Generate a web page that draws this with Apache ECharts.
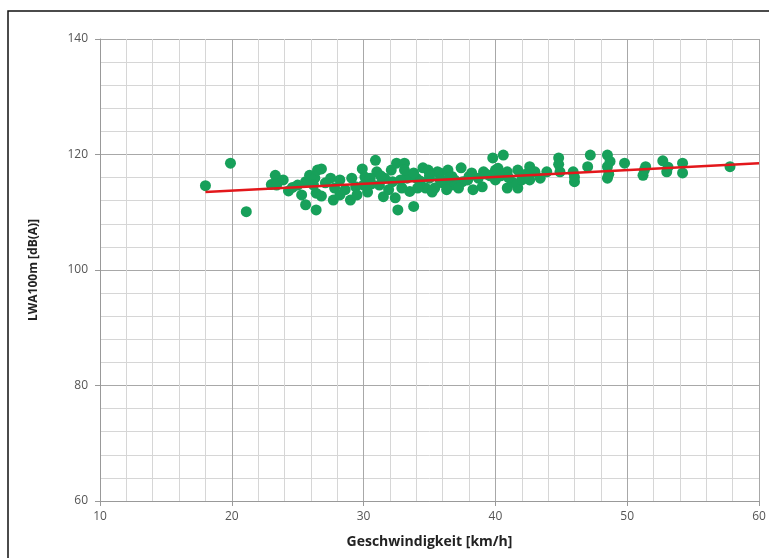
<!DOCTYPE html>
<html>
<head>
<meta charset="utf-8">
<script src="https://cdn.jsdelivr.net/npm/echarts@6/dist/echarts.min.js"></script>
<style>html,body{margin:0;padding:0;background:#fff;}#c{width:769px;height:558px;}</style>
</head>
<body>
<div id="c"></div>
<script>
const speed = [18.0,19.9,21.1,23.3,23.0,23.4,24.3,24.6,25.3,25.6,25.6,25.9,26.3,26.4,26.4,26.5,26.8,26.2,27.5,27.8,28.2,29.0,29.1,29.9,30.0,30.3,30.9,31.0,31.2,31.5,32.1,32.2,32.5,32.6,33.1,33.3,33.5,33.8,34.0,34.5,34.7,35.0,35.4,35.6,35.8,36.0,36.7,36.7,37.4,37.5,38.2,38.3,39.0,39.1,39.8,40.0,40.0,40.6,40.9,40.9,41.7,41.7,42.0,42.6,42.6,43.9,44.8,44.9,45.9,46.0,47.0,47.2,48.5,48.5,48.7,48.5,49.8,51.4,51.2,52.7,53.0,54.2,54.2,57.8,
  26.8,27.7,28.6,29.4,30.1,30.5,31.6,31.9,32.8,32.9,34.3,34.9,35.8,36.4,36.9,37.2,37.9,38.7,39.6,40.4,41.3,42.3,43.0,43.4,23.9,25.0,27.1,28.2,29.5,30.6,32.4,33.1,34.1,35.2,36.3,
  44.8,46.0,48.6,51.3,53.1,31.3,33.8,35.0,36.5,38.0,39.3,40.2,41.0];
const level = [114.6,118.5,110.1,116.4,114.8,114.7,113.7,114.3,113.0,111.3,115.3,116.4,115.9,113.3,110.4,117.3,117.5,114.7,115.9,114.2,115.6,112.1,115.9,117.5,114.7,113.5,119.0,117.0,114.7,112.7,117.3,115.3,118.5,110.4,118.5,115.9,113.6,111.0,115.9,117.7,114.2,115.9,114.2,117.0,116.8,115.1,116.2,114.7,117.7,115.3,116.8,113.9,114.4,117.0,119.4,117.3,115.6,119.9,117.0,114.2,117.3,114.2,115.6,117.9,115.6,117.0,119.4,117.0,117.0,115.3,117.9,119.9,119.9,117.9,118.8,115.9,118.5,117.9,116.4,118.9,117.0,118.5,116.8,117.9,
  112.8,112.1,113.9,114.4,116.1,115.9,115.9,113.9,115.6,114.2,115.4,117.3,115.6,117.3,115.6,114.2,115.6,115.9,116.3,116.3,115.2,116.6,117.0,115.9,115.6,114.7,115.1,113.0,113.0,114.9,112.5,117.3,114.2,113.5,113.9,
  118.3,116.1,116.6,117.3,117.8,116.3,116.8,116.4,116.0,116.2,116.6,117.6,116.0];
const trendX = [18, 60];
const trendY = [113.5, 118.5];

const scatterData = speed.map((s, i) => [s, level[i]]);
const trendData = trendX.map((s, i) => [s, trendY[i]]);

const chart = echarts.init(document.getElementById('c'), null, {renderer: 'canvas'});
const font = 'Open Sans, Liberation Sans, sans-serif';
chart.setOption({
  animation: false,
  backgroundColor: '#fff',
  graphic: [{
    type: 'rect', silent: true, z: 100,
    shape: {x: 8, y: 11, width: 780, height: 580},
    style: {fill: 'none', stroke: '#111', lineWidth: 1.5}
  }],
  grid: {left: 100, top: 39, right: 10, bottom: 57},
  xAxis: {
    type: 'value', min: 10, max: 60, interval: 10,
    name: 'Geschwindigkeit [km/h]', nameLocation: 'middle', nameGap: 34,
    nameTextStyle: {fontFamily: font, fontWeight: 'bold', fontSize: 14, color: '#222'},
    axisLine: {show: true, lineStyle: {color: '#999', width: 1}},
    axisTick: {show: true, length: 5, lineStyle: {color: '#999'}},
    axisLabel: {fontFamily: font, fontSize: 12, color: '#555', margin: 10},
    splitLine: {show: true, lineStyle: {color: '#a8a8a8', width: 1}},
    minorTick: {show: false, splitNumber: 5},
    minorSplitLine: {show: true, lineStyle: {color: '#d6d6d6', width: 1}}
  },
  yAxis: {
    type: 'value', min: 60, max: 140, interval: 20,
    name: 'LWA100m [dB(A)]', nameLocation: 'middle', nameGap: 60, nameRotate: 90,
    nameTextStyle: {fontFamily: font, fontWeight: 'bold', fontSize: 12, color: '#222'},
    axisLine: {show: true, lineStyle: {color: '#999', width: 1}},
    axisTick: {show: true, length: 5, lineStyle: {color: '#999'}},
    axisLabel: {fontFamily: font, fontSize: 12, color: '#555', margin: 12},
    splitLine: {show: true, lineStyle: {color: '#a8a8a8', width: 1}},
    minorTick: {show: false, splitNumber: 5},
    minorSplitLine: {show: true, lineStyle: {color: '#d6d6d6', width: 1}}
  },
  series: [
    {
      type: 'scatter', data: scatterData, symbolSize: 11,
      itemStyle: {color: '#17a05a', opacity: 1}
    },
    {
      type: 'line', data: trendData, symbol: 'none', z: 5,
      lineStyle: {color: '#e3171b', width: 2.5}
    }
  ]
});
</script>
</body>
</html>
